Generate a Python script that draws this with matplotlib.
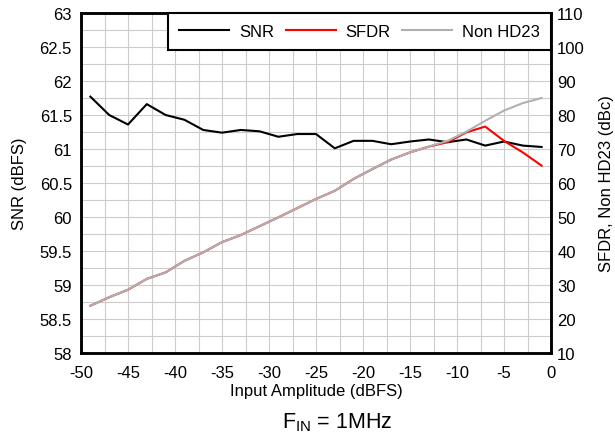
import matplotlib
matplotlib.use("Agg")
import matplotlib.pyplot as plt
import numpy as np

plt.rcParams['font.family'] = ['Liberation Sans', 'DejaVu Sans']
plt.rcParams['axes.unicode_minus'] = False

# Input amplitude (dBFS)
amp = [-49, -47, -45, -43, -41, -39, -37, -35, -33, -31, -29, -27, -25,
       -23, -21, -19, -17, -15, -13, -11, -9, -7, -5, -3, -1]

# SNR (dBFS), left axis
snr = [61.77, 61.50, 61.36, 61.66, 61.50, 61.43, 61.28, 61.24, 61.28, 61.26,
       61.18, 61.22, 61.22, 61.01, 61.12, 61.12, 61.07, 61.11, 61.14, 61.10,
       61.14, 61.05, 61.11, 61.05, 61.03]

# SFDR and Non HD23 (dBc), right axis
sfdr = [23.9, 26.4, 28.6, 31.8, 33.7, 37.1, 39.6, 42.6, 44.7, 47.3,
        49.9, 52.6, 55.3, 57.7, 61.2, 64.1, 66.9, 69.0, 70.7, 72.0,
        74.9, 76.6, 72.4, 69.0, 65.1]
non_hd23 = [23.9, 26.4, 28.6, 31.8, 33.7, 37.1, 39.6, 42.6, 44.7, 47.3,
            49.9, 52.6, 55.3, 57.7, 61.2, 64.1, 66.9, 69.0, 70.7, 72.4,
            75.1, 78.3, 81.3, 83.5, 85.0]

fs = 12

fig = plt.figure(figsize=(6.15, 4.39), dpi=100)
ax = fig.add_axes([81/615, 1 - 354/439, 470/615, 340/439])
ax2 = ax.twinx()

l1, = ax.plot(amp, snr, color='black', lw=1.5, label='SNR')
l2, = ax2.plot(amp, sfdr, color='red', lw=1.5, label='SFDR')
l3, = ax2.plot(amp, non_hd23, color='#b0b0b0', lw=1.5, label='Non HD23')

ax.set_xlim(-50, 0)
ax.set_ylim(58, 63)
ax2.set_ylim(10, 110)
ax.set_xticks(np.arange(-50, 1, 5))
ax.set_xticks(np.arange(-50, 1, 2.5), minor=True)
ax.set_yticks(np.arange(58, 63.01, 0.5))
ax.set_yticks(np.arange(58, 63.01, 0.25), minor=True)
ax.set_yticklabels(['58', '58.5', '59', '59.5', '60', '60.5', '61', '61.5',
                    '62', '62.5', '63'])
ax2.set_yticks(np.arange(10, 111, 10))
ax.grid(True, which='both', color='#cccccc', lw=0.8)
ax.set_axisbelow(True)

for a in (ax, ax2):
    a.tick_params(which='both', length=0, labelsize=fs)
    for s in a.spines.values():
        s.set_linewidth(1.8)
        s.set_color('black')
ax.tick_params(axis='y', pad=6.5)
ax2.tick_params(axis='y', pad=4.5)
ax.tick_params(axis='x', pad=8.5)

ax.set_xlabel('Input Amplitude (dBFS)', fontsize=fs, labelpad=2.5)
ax.set_ylabel('SNR (dBFS)', fontsize=fs, labelpad=9)
ax2.set_ylabel('SFDR, Non HD23 (dBc)', fontsize=fs, labelpad=10)

leg = ax2.legend(handles=[l1, l2, l3], loc='upper right', ncol=3,
                 borderaxespad=0, fancybox=False, edgecolor='black',
                 framealpha=1, fontsize=fs, handlelength=3.0,
                 columnspacing=0.7, handletextpad=0.6, borderpad=0.65)
leg.get_frame().set_linewidth(1.5)

fig.text(337/615, 1 - 423/439, r'F$_{\mathregular{IN}}$ = 1MHz', ha='center',
         va='center', fontsize=15.5)

fig.savefig('out.png', dpi=100)
